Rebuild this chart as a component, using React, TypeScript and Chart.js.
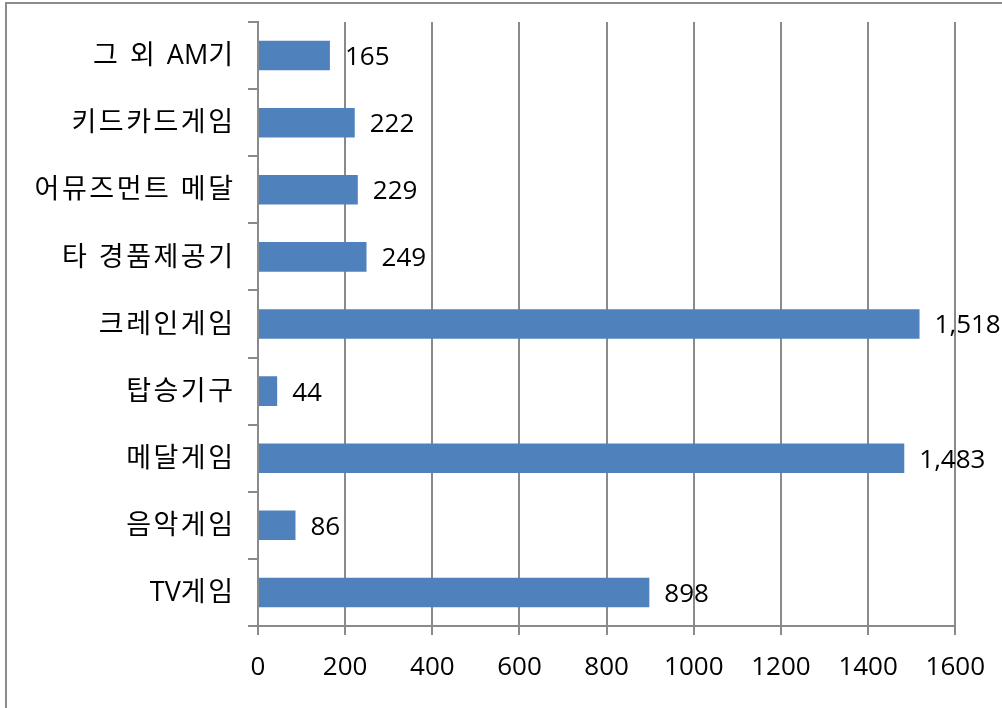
import React, { useEffect, useRef } from "react";
import { Chart, registerables } from "chart.js";

Chart.register(...registerables);

const categories = [
  "그 외 AM기",
  "키드카드게임",
  "어뮤즈먼트 메달",
  "타 경품제공기",
  "크레인게임",
  "탑승기구",
  "메달게임",
  "음악게임",
  "TV게임",
];
const values = [165, 222, 229, 249, 1518, 44, 1483, 86, 898];
const xMin = 0;
const xMax = 1600;
const xStep = 200;

const FONT = "'Open Sans', 'Noto Sans CJK KR', sans-serif";
const GRID = "#8a8a8a";

const borderPlugin = {
  id: "outerBorder",
  beforeDraw(chart: any) {
    const ctx = chart.ctx;
    ctx.save();
    ctx.fillStyle = "#ffffff";
    ctx.fillRect(0, 0, chart.width, chart.height);
    ctx.strokeStyle = "#8c8c8c";
    ctx.lineWidth = 2;
    ctx.beginPath();
    ctx.moveTo(6, chart.height + 2);
    ctx.lineTo(6, 3);
    ctx.lineTo(chart.width + 2, 3);
    ctx.stroke();
    ctx.restore();
  },
};

const SPACING = 2.5;
const isWide = (ch: string) => /[\u3130-\u318F\uAC00-\uD7AF ]/.test(ch);

function splitRuns(text: string) {
  const runs: { t: string; wide: boolean }[] = [];
  for (const ch of text) {
    const w = isWide(ch);
    const last = runs[runs.length - 1];
    if (last && last.wide === w) last.t += ch;
    else runs.push({ t: ch, wide: w });
  }
  return runs;
}

const labelPlugin = {
  id: "valueLabels",
  afterDatasetsDraw(chart: any) {
    const ctx = chart.ctx;
    const meta = chart.getDatasetMeta(0);
    ctx.save();
    ctx.font = `26px ${FONT}`;
    ctx.fillStyle = "#000";
    ctx.textAlign = "left";
    ctx.textBaseline = "middle";
    meta.data.forEach((bar: any, i: number) => {
      const v = values[i];
      ctx.fillText(v.toLocaleString("en-US"), bar.x + 15, bar.y + 2);
    });
    ctx.restore();

    // category labels
    const yScale = chart.scales.y;
    ctx.save();
    ctx.font = `27px ${FONT}`;
    ctx.fillStyle = "#000";
    ctx.textAlign = "left";
    ctx.textBaseline = "middle";
    categories.forEach((c, i) => {
      const y = yScale.getPixelForValue(i) + 1;
      const runs = splitRuns(c);
      const widths = runs.map((r) => {
        (ctx as any).letterSpacing = r.wide ? `${SPACING}px` : "0px";
        return ctx.measureText(r.t).width;
      });
      const total = widths.reduce((a, b) => a + b, 0);
      let x = yScale.right - 25 + SPACING - total;
      runs.forEach((r, k) => {
        (ctx as any).letterSpacing = r.wide ? `${SPACING}px` : "0px";
        ctx.fillText(r.t, x, y);
        x += widths[k];
      });
    });
    ctx.restore();
  },
};

export default function App() {
  const ref = useRef<HTMLCanvasElement | null>(null);
  useEffect(() => {
    if (!ref.current) return;
    const chart = new Chart(ref.current, {
      type: "bar",
      data: {
        labels: categories,
        datasets: [
          {
            data: values,
            backgroundColor: "#4f81bd",
            borderWidth: 0,
            categoryPercentage: 1,
            barPercentage: 0.44,
          },
        ],
      },
      options: {
        indexAxis: "y",
        responsive: false,
        animation: false,
        devicePixelRatio: 1,
        layout: { padding: { left: 0, top: 22, right: 44, bottom: 0 } },
        plugins: {
          legend: { display: false },
          tooltip: { enabled: false },
        },
        scales: {
          x: {
            min: xMin,
            max: xMax,
            ticks: {
              stepSize: xStep,
              color: "#000",
              font: { family: FONT, size: 26 },
              padding: 17,
              maxRotation: 0,
              callback: (v: any) => String(v),
            },
            grid: {
              color: GRID,
              lineWidth: 2,
              tickLength: 9,
              drawTicks: true,
            },
            border: { color: GRID, width: 2 },
            afterFit: (s: any) => {
              s.height = 708 - 626;
            },
          },
          y: {
            ticks: {
              display: false,
            },
            grid: {
              drawOnChartArea: false,
              color: GRID,
              lineWidth: 2,
              tickLength: 10,
              offset: true,
            },
            border: { color: GRID, width: 2 },
            afterFit: (s: any) => {
              s.width = 258;
            },
          },
        },
      },
      plugins: [borderPlugin, labelPlugin],
    });
    return () => chart.destroy();
  }, []);
  return (
    <div style={{ position: "fixed", left: 0, top: 0, width: 1002, height: 708, background: "#fff" }}>
      <canvas ref={ref} width={1002} height={708} style={{ display: "block" }} />
    </div>
  );
}
